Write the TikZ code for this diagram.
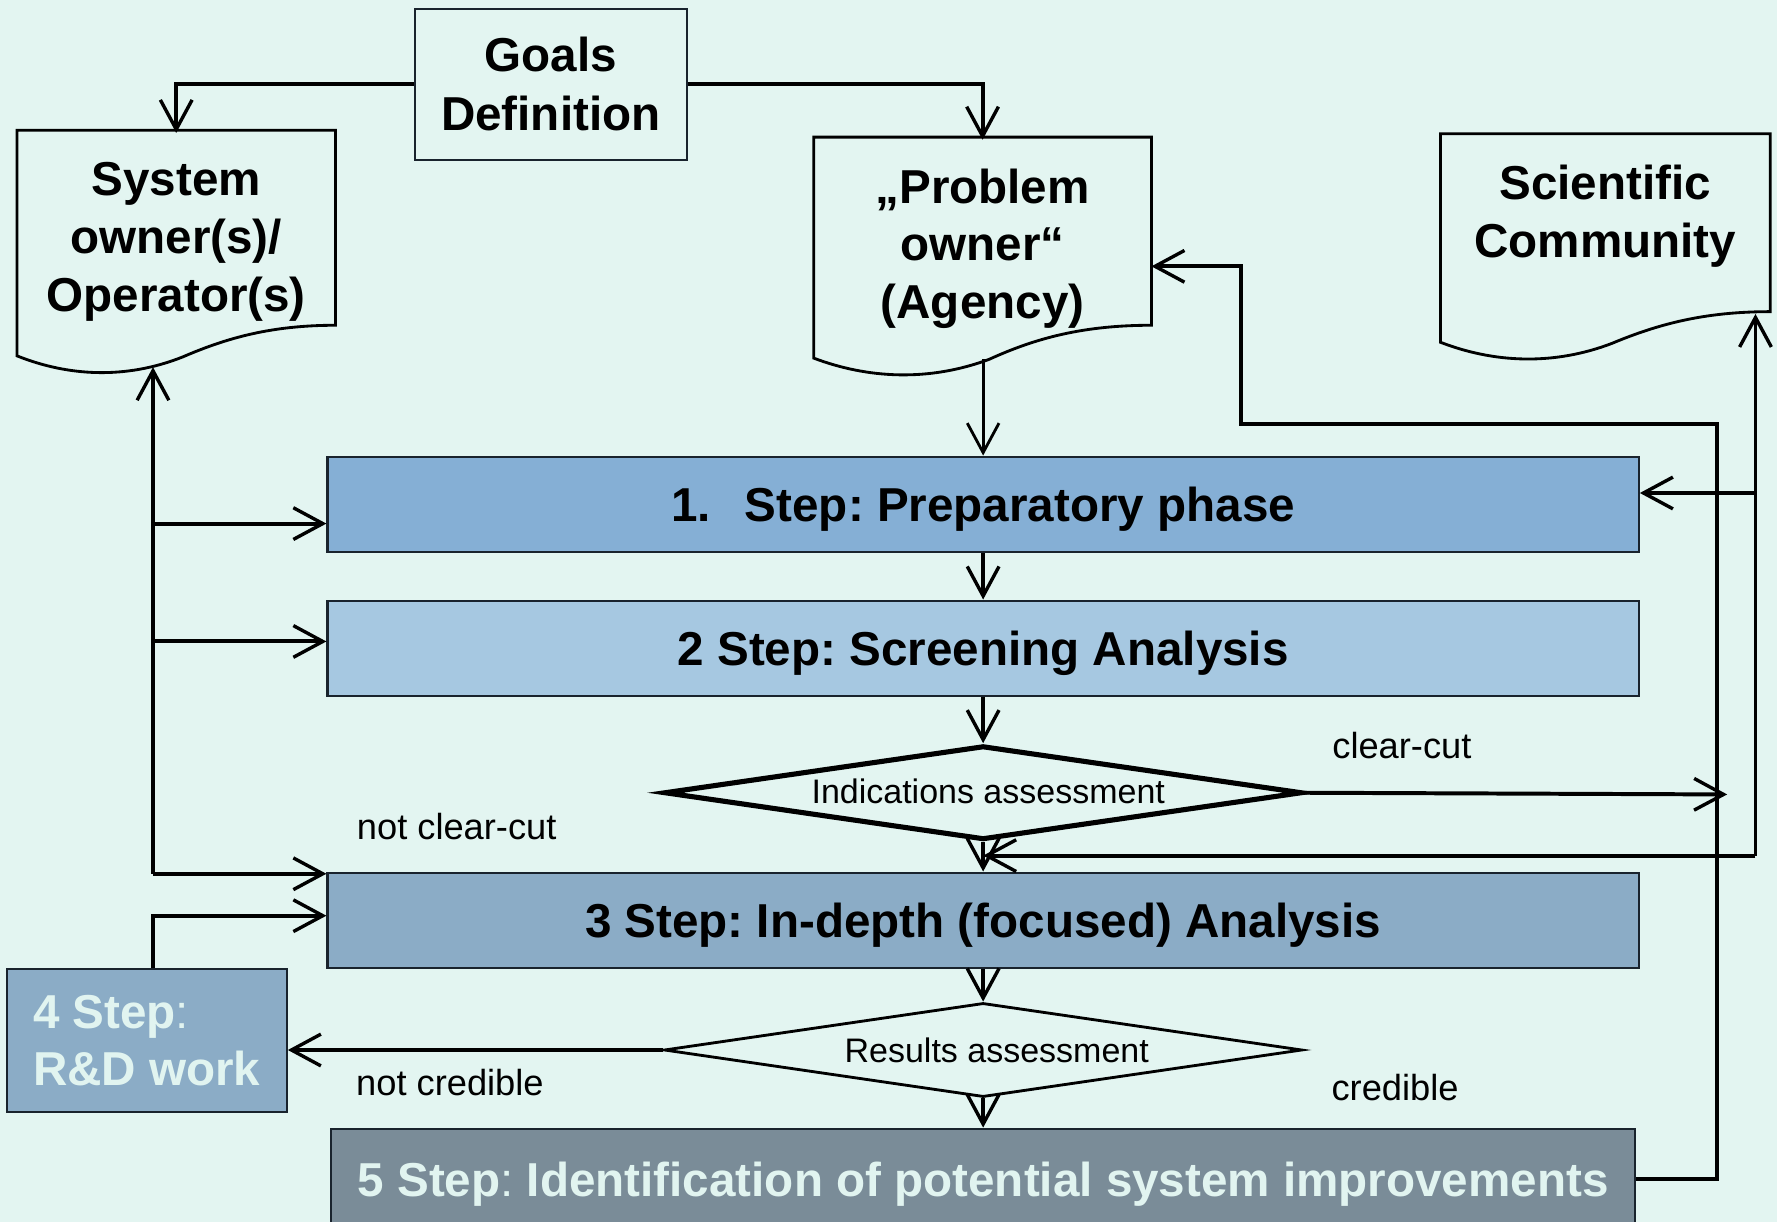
\documentclass[tikz,border=0pt]{standalone}
\usepackage{fontspec}
\setmainfont{Liberation Sans}
\usetikzlibrary{arrows.meta,shapes.geometric}
\frenchspacing

\definecolor{bg}{RGB}{227,245,241}
\definecolor{stepone}{RGB}{133,175,213}
\definecolor{steptwo}{RGB}{166,200,225}
\definecolor{stepthree}{RGB}{139,172,198}
\definecolor{stepfive}{RGB}{122,140,152}
\definecolor{lighttext}{RGB}{225,244,240}
\definecolor{edge}{RGB}{25,35,45}

% document shape outline: left, right, top, bottom-right, bottom-left
\newcommand\docoutline[5]{%
  \draw[docline] (#1,#5) -- (#1,#3) -- (#2,#3) -- (#2,#4)
    .. controls ({#1+0.8*(#2-#1)},#4) and ({#1+0.66*(#2-#1)},{#4+11}) .. ({#1+0.52*(#2-#1)},{#5+1})
    .. controls ({#1+0.34*(#2-#1)},{#5+21}) and ({#1+0.16*(#2-#1)},{#5+18}) .. (#1,#5) -- cycle;}

\tikzset{
  arr/.style={line width=3.5pt, -{Straight Barb[length=26pt,width=28pt,line width=3pt]}},
  thinarr/.style={line width=2.5pt, -{Straight Barb[length=26pt,width=28pt,line width=2.5pt]}},
  docline/.style={draw=black, line width=2.5pt, fill=bg},
  doctext/.style={font=\fontsize{42}{51}\selectfont\bfseries, align=center, inner sep=0pt},
  stepbox/.style={draw=edge, line width=2pt, minimum width=1157pt, minimum height=84pt,
    inner sep=0pt, text depth=0pt, font=\fontsize{42}{50}\selectfont\bfseries},
  decision/.style={diamond, draw=black, aspect=6.8, inner sep=0pt, minimum width=563pt,
    minimum height=83pt, font=\fontsize{30}{36}\selectfont},
  lbl/.style={font=\fontsize{32}{38}\selectfont, inner sep=0pt}
}

\begin{document}
\begin{tikzpicture}[x=1pt,y=-1pt]
\fill[bg] (0,0) rectangle (1568,1078);
\useasboundingbox (0,0) rectangle (1568,1078);

% actors
\node[draw=edge, line width=2pt, fill=bg, minimum width=240pt, minimum height=133pt,
  font=\fontsize{42}{52}\selectfont\bfseries, align=center] (goals) at (486,74.5) {Goals\\Definition};

\docoutline{15}{296}{115}{287}{314}
\node[doctext, minimum width=281pt, minimum height=192pt] (sys) at (155.5,213.5) {System\\owner(s)/\\Operator(s)};
\docoutline{718}{1016}{121}{287}{316}
\node[doctext, minimum width=298pt, minimum height=192pt] (prob) at (867,219.5) {„Problem\\owner“\\(Agency)};
\docoutline{1271}{1562}{118}{275}{302}
\node[doctext, minimum width=291pt, minimum height=139pt] (sci) at (1416.5,190.5) {Scientific\\Community};

% process steps
\node[stepbox, fill=stepone] (step1) at (867.5,445) {1.\hspace{30pt}Step: Preparatory phase};
\node[stepbox, fill=steptwo] (step2) at (867.5,572) {2 Step: Screening Analysis};
\node[decision, line width=4.5pt] (ind) at (867.5,699.5) {\raisebox{3pt}{\hspace{9pt}Indications assessment}};
\node[stepbox, fill=stepthree] (step3) at (867.5,812) {3 Step: In-depth (focused) Analysis};
\node[decision, line width=2.5pt] (res) at (867.5,926.5) {\raisebox{-4pt}{\hspace{24pt}Results assessment}};
\node[stepbox, fill=stepthree, minimum width=247pt, minimum height=126pt, align=left,
  text=lighttext] (step4) at (129.5,918) {4 Step\textmd{:}\\R\&D work\hspace{8pt}};
\node[stepbox, fill=stepfive, minimum width=1151pt, minimum height=89pt,
  text=lighttext] (step5) at (867.5,1040.5) {5 Step\textmd{:} Identification of potential system improvements};

% helper points
\coordinate (sysB) at (135,324);
\coordinate (sysJ) at (135,771);
\coordinate (probB) at (867.5,317);
\coordinate (probR) at (1016,235);
\coordinate (sciB) at (1549,277);
\coordinate (sciJ) at (1549,755);
\coordinate (ccEnd) at (1524,701);
\coordinate (fbA) at (1515,374);
\coordinate (fbB) at (1095,374);
\coordinate (s1in) at ([yshift=-17pt]step1.west);
\coordinate (s2in) at ([yshift=6pt]step2.west);
\coordinate (s3in) at ([yshift=4pt]step3.west);
\coordinate (s1r) at ([yshift=10pt]step1.east);

% connectors
\draw[arr] (goals.west) -| (sys.north);
\draw[arr] (goals.east) -| (prob.north);
\draw[thinarr] (probB) -- (step1.north);

\draw[arr] (sysJ) -- (sysB);
\draw[arr] (s1in -| sysB) -- (s1in);
\draw[arr] (s2in -| sysB) -- (s2in);
\draw[arr] (sysJ) -- (sysJ -| step3.west);
\draw[arr] ([xshift=5.5pt]step4.north) |- (s3in);

\draw[arr] (step1.south) -- (step2.north);
\draw[arr] (step2.south) -- (ind.north);
\draw[arr] (ind.east) -- (ccEnd);
\draw[arr] (ind.south) -- (step3.north);
\draw[arr] (step3.south) -- (res.north);
\draw[arr] (res.west) -- (res.west -| step4.east);
\draw[arr] (res.south) -- (step5.north);

\draw[arr] (sciJ) -- (sciB);
\draw[arr] (s1r -| sciB) -- (s1r);
\draw[arr] (sciJ) -- (sciJ -| ind.south);

\draw[arr] (step5.east) -| (fbA) -- (fbB) |- (probR);

% branch labels
\node[lbl] (lcc) at (1237,658) {clear-cut};
\node[lbl] (lncc) at (403,729) {not clear-cut};
\node[lbl] (lnc) at (397,955) {not credible};
\node[lbl] (lc) at (1231,960) {credible};
\end{tikzpicture}
\end{document}
